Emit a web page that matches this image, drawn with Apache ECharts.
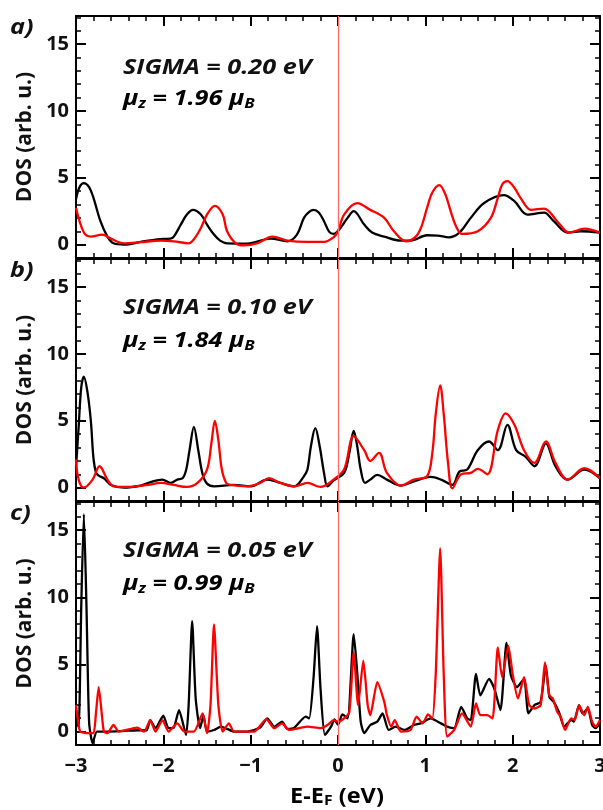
<!DOCTYPE html>
<html>
<head>
<meta charset="utf-8">
<script src="https://cdn.jsdelivr.net/npm/echarts@6/dist/echarts.min.js"></script>
<style>
  html, body { margin: 0; background: #fff; }
  #chart { width: 603px; height: 810px; }
</style>
</head>
<body>
<div id="chart"></div>
<script>
// DOS curves: [E - E_F (eV), DOS (arb. u.)]
// panel a) SIGMA = 0.20 eV
const A_BLACK = [[-3,3.4],[-2.96,4.3],[-2.91,4.6],[-2.85,4.3],[-2.8,3.5],[-2.72,1.75],[-2.64,0.6],[-2.57,0.1],[-2.45,0],
  [-2.26,0.2],[-2.07,0.4],[-1.92,0.45],[-1.88,0.6],[-1.8,1.5],[-1.73,2.25],[-1.66,2.6],[-1.57,2.25],[-1.5,1.5],[-1.42,0.75],
  [-1.35,0.3],[-1.27,0.1],[-1.04,0.08],[-0.77,0.45],[-0.58,0.25],[-0.47,0.75],[-0.39,2.0],[-0.33,2.45],[-0.28,2.6],
  [-0.22,2.4],[-0.16,1.75],[-0.1,0.95],[-0.05,0.8],[0.01,1.1],[0.11,2.0],[0.18,2.5],[0.3,1.5],[0.39,0.9],[0.53,0.6],
  [0.72,0.3],[0.83,0.3],[1.02,0.7],[1.14,0.68],[1.27,0.55],[1.39,0.9],[1.52,2.0],[1.67,3.1],[1.9,3.7],[2.02,3.25],
  [2.17,2.25],[2.36,2.4],[2.47,1.75],[2.63,0.9],[2.78,1.0],[3,0.9]];
const A_RED = [[-3,2.75],[-2.91,0.9],[-2.83,0.6],[-2.7,0.75],[-2.6,0.45],[-2.45,0.1],[-2.26,0.18],[-2.03,0.3],[-1.88,0.25],
  [-1.71,0.1],[-1.65,0.4],[-1.57,1.25],[-1.5,2.25],[-1.41,2.9],[-1.32,2.25],[-1.27,1.0],[-1.17,0.1],[-1.08,-0.05],
  [-0.92,0.12],[-0.75,0.6],[-0.58,0.3],[-0.35,0.2],[-0.16,0.2],[-0.05,0.55],[0,1.0],[0.07,2.25],[0.22,3.1],[0.37,2.6],
  [0.53,2.0],[0.64,1.0],[0.78,0.25],[0.89,0.6],[0.95,1.25],[1.02,2.75],[1.08,3.9],[1.16,4.45],[1.23,3.75],[1.29,2.5],
  [1.35,1.4],[1.42,0.8],[1.6,1.0],[1.75,2.0],[1.83,3.5],[1.88,4.5],[1.94,4.75],[2.02,4.25],[2.09,3.5],[2.21,2.6],
  [2.36,2.7],[2.51,1.75],[2.65,0.9],[2.82,1.2],[3,0.9]];

// panel b) SIGMA = 0.10 eV
const B_BLACK = [[-3,1.5],[-2.97,4.5],[-2.94,7.5],[-2.91,8.3],[-2.87,7.2],[-2.83,5.0],[-2.8,2.2],[-2.77,1.1],[-2.74,0.9],
  [-2.68,0.7],[-2.6,0.2],[-2.45,0],[-2.26,0.15],[-2.15,0.4],[-2.01,0.6],[-1.92,0.35],[-1.84,0.6],[-1.78,0.7],[-1.74,1.3],
  [-1.7,2.8],[-1.65,4.55],[-1.6,2.8],[-1.55,1.0],[-1.5,0.3],[-1.42,0.1],[-1.19,0.2],[-1.0,0.1],[-0.81,0.6],[-0.66,0.35],
  [-0.5,0.1],[-0.39,0.85],[-0.35,1.35],[-0.31,3.1],[-0.26,4.45],[-0.21,3.1],[-0.16,1.1],[-0.12,0.1],[-0.05,0.55],
  [0.07,1.1],[0.13,2.6],[0.18,4.25],[0.22,3.1],[0.26,1.35],[0.31,0.35],[0.37,0.6],[0.45,0.95],[0.56,0.6],[0.72,0.15],
  [0.87,0.47],[1.06,0.8],[1.18,0.6],[1.31,0.2],[1.39,1.2],[1.48,1.35],[1.6,2.8],[1.73,3.45],[1.83,2.8],[1.94,4.7],
  [2.04,2.8],[2.15,2.3],[2.25,1.6],[2.38,3.3],[2.49,1.6],[2.63,0.6],[2.82,1.35],[3,0.7]];
const B_RED = [[-3,2.1],[-2.97,0.6],[-2.91,0],[-2.81,0.6],[-2.73,1.6],[-2.64,0.6],[-2.57,0.1],[-2.41,0.05],[-2.18,0.2],
  [-2.03,0.35],[-1.88,0.2],[-1.73,0.05],[-1.61,0.35],[-1.5,1.35],[-1.45,3.3],[-1.41,5.0],[-1.37,3.55],[-1.33,1.35],
  [-1.28,0.35],[-1.23,0.2],[-1.04,0.1],[-0.89,0.35],[-0.79,0.7],[-0.66,0.35],[-0.5,0.1],[-0.35,0.35],[-0.2,0.05],
  [-0.05,0.6],[0.07,1.35],[0.18,3.85],[0.3,2.8],[0.37,2.0],[0.47,2.6],[0.56,1.1],[0.72,0.15],[0.87,0.6],[1.02,0.85],
  [1.08,2.6],[1.12,5.55],[1.17,7.65],[1.21,5.55],[1.26,1.85],[1.31,-0.05],[1.41,1.0],[1.52,1.1],[1.6,1.4],[1.71,1.0],
  [1.83,4.3],[1.92,5.55],[2.02,4.7],[2.13,2.8],[2.25,1.85],[2.38,3.45],[2.49,1.85],[2.63,0.6],[2.82,1.45],[3,0.7]];

// panel c) SIGMA = 0.05 eV
const C_BLACK = [[-3,0.9],[-2.97,0.3],[-2.94,9.3],[-2.91,16.2],[-2.88,9.3],[-2.85,0.7],[-2.81,-0.86],[-2.76,0],
  [-2.64,0],[-2.45,0.05],[-2.26,0.1],[-2.19,0.1],[-2.15,0.86],[-2.09,0.25],[-2.0,1.18],[-1.94,0.25],[-1.88,0.3],
  [-1.82,1.6],[-1.74,-0.25],[-1.71,2.0],[-1.67,8.23],[-1.63,2.5],[-1.58,0.25],[-1.54,1.18],[-1.5,0],[-1.42,0.12],
  [-1.34,0.37],[-1.27,0.2],[-1.19,0],[-1.04,0],[-0.89,0.3],[-0.81,0.98],[-0.73,0.37],[-0.64,0.74],[-0.58,0.2],
  [-0.5,0.29],[-0.37,1.11],[-0.33,0.98],[-0.28,4.0],[-0.24,7.86],[-0.2,3.19],[-0.15,-0.25],[-0.08,0.37],[-0.04,0.9],
  [0,0.5],[0.05,1.28],[0.11,0.98],[0.18,7.25],[0.22,4.4],[0.26,0.74],[0.3,-0.12],[0.37,0.49],[0.45,0.74],[0.51,1.35],
  [0.58,0.12],[0.66,0.37],[0.76,0.12],[0.87,0.49],[0.95,0.61],[1.06,0.98],[1.18,0.61],[1.25,0.37],[1.33,0.25],
  [1.41,1.84],[1.48,0.98],[1.52,0.86],[1.58,4.3],[1.63,2.7],[1.73,3.93],[1.79,3.19],[1.86,1.6],[1.93,6.63],[1.98,4.18],
  [2.05,3.32],[2.13,3.93],[2.18,1.35],[2.25,1.97],[2.32,2.21],[2.38,4.91],[2.42,2.58],[2.47,2.21],[2.53,1.47],
  [2.59,0.37],[2.67,0.86],[2.7,0.74],[2.76,1.97],[2.8,1.35],[2.86,1.72],[2.91,0.49],[2.95,0.25],[3,0.61]];
const C_RED = [[-3,1.97],[-2.97,0.5],[-2.95,0],[-2.87,-0.12],[-2.8,-0.12],[-2.77,1.5],[-2.74,3.3],[-2.7,1.0],[-2.68,0],
  [-2.64,-0.12],[-2.57,0.49],[-2.51,0],[-2.3,0.29],[-2.22,0],[-2.15,0.86],[-2.09,0],[-2.01,0.86],[-1.94,0],[-1.84,0.61],
  [-1.76,0],[-1.65,0],[-1.55,1.35],[-1.5,-0.12],[-1.46,1.97],[-1.42,7.99],[-1.37,1.97],[-1.32,0],[-1.25,0.61],
  [-1.19,0],[-0.96,0],[-0.82,0.93],[-0.73,0.25],[-0.64,0.61],[-0.56,0.12],[-0.35,0.37],[-0.2,0.25],[-0.12,0.49],
  [-0.05,0.86],[0,0.74],[0.07,0.98],[0.13,1.47],[0.18,5.9],[0.23,1.97],[0.29,5.28],[0.34,1.97],[0.37,1.23],[0.45,3.69],
  [0.53,2.21],[0.56,1.23],[0.61,0.37],[0.65,0.86],[0.72,0],[0.83,0.12],[0.9,1.11],[0.97,0.61],[1.03,1.28],[1.08,0.98],
  [1.12,4.42],[1.17,13.64],[1.21,4.42],[1.25,-0.37],[1.33,0.12],[1.42,1.35],[1.52,0.37],[1.58,2.09],[1.63,1.23],
  [1.71,1.23],[1.77,0.98],[1.83,6.27],[1.88,4.05],[1.95,6.39],[2.0,4.3],[2.06,2.46],[2.13,4.05],[2.19,1.97],[2.25,1.72],
  [2.32,1.97],[2.37,5.16],[2.42,2.7],[2.46,2.46],[2.51,1.47],[2.55,1.11],[2.6,0.12],[2.67,0.98],[2.71,0.86],[2.76,1.97],
  [2.82,1.23],[2.86,1.84],[2.91,0.74],[2.95,0.37],[3,0.86]];

const PANEL_LABELS = ['a)', 'b)', 'c)'];
const SIGMAS = ['0.20', '0.10', '0.05'];
const MOMENTS = ['1.96', '1.84', '0.99'];
const Y_MAJOR = [0, 5, 10, 15];
const Y_MINOR = [-1, 1, 2, 3, 4, 6, 7, 8, 9, 11, 12, 13, 14, 16, 17];

const BLACKS = [A_BLACK, B_BLACK, C_BLACK];
const REDS = [A_RED, B_RED, C_RED];

const FONT = "'Open Sans', sans-serif";
const TOPS = [16, 259, 502];
const HEIGHTS = [242, 242, 243];
const LEFT = 76, WIDTH = 524;
const STRETCH = 1.2; // annotation text in the figure is drawn wider than the font's natural width

const grid = [], xAxis = [], yAxis = [], series = [], graphic = [];
const ax = { lineStyle: { color: '#000', width: 2 } };

TOPS.forEach((top, i) => {
  grid.push({ left: LEFT, top, width: WIDTH, height: HEIGHTS[i], containLabel: false, outerBoundsMode: 'none' });
  ['bottom', 'top'].forEach(pos => xAxis.push({
    gridIndex: i, type: 'value', min: -3, max: 3, interval: 1, position: pos,
    axisLine: { show: true, onZero: false, ...ax },
    axisTick: { show: true, inside: true, length: 10, ...ax },
    minorTick: { show: true, splitNumber: 5, length: 5, lineStyle: { color: '#000', width: 1.5 } },
    splitLine: { show: false },
    axisLabel: {
      show: pos === 'bottom' && i === 2, margin: 11, color: '#111',
      fontFamily: FONT, fontWeight: 'bold', fontSize: 20,
      formatter: v => (v < 0 ? '\u2212' + Math.abs(v) : String(v)),
    },
  }));
  ['left', 'right'].forEach(pos => {
    yAxis.push({
      gridIndex: i, type: 'value', min: -1, max: 17.1, position: pos,
      axisLine: { show: true, onZero: false, ...ax },
      axisTick: { show: true, inside: true, length: 10, customValues: Y_MAJOR, ...ax },
      splitLine: { show: false },
      axisLabel: {
        show: pos === 'left', customValues: Y_MAJOR, margin: 7, color: '#111',
        fontFamily: FONT, fontWeight: 'bold', fontSize: 20,
      },
    });
    yAxis.push({
      gridIndex: i, type: 'value', min: -1, max: 17.1, position: pos,
      axisLine: { show: false, onZero: false },
      axisTick: { show: true, inside: true, length: 5, customValues: Y_MINOR, lineStyle: { color: '#000', width: 1.5 } },
      splitLine: { show: false },
      axisLabel: { show: false },
    });
  });

  series.push({
    type: 'line', xAxisIndex: 2 * i, yAxisIndex: 4 * i, data: BLACKS[i],
    showSymbol: false, smooth: i === 2 ? 0.2 : 0.35, lineStyle: { color: '#000', width: 2.3 },
    markLine: {
      silent: true, symbol: ['none', 'none'], label: { show: false },
      lineStyle: { color: '#ff6a6a', width: 1.3, type: 'solid' },
      data: [{ xAxis: 0 }],
    },
  });
  series.push({
    type: 'line', xAxisIndex: 2 * i, yAxisIndex: 4 * i, data: REDS[i],
    showSymbol: false, smooth: i === 2 ? 0.2 : 0.35, lineStyle: { color: '#f00', width: 2.3 },
  });

  const txt = { fontFamily: FONT, fontWeight: 'bold', fontStyle: 'italic', fill: '#111' };
  graphic.push({
    type: 'text', x: 10, y: top + 12, scaleX: STRETCH,
    style: { ...txt, text: PANEL_LABELS[i], fontSize: 21, textAlign: 'left', textVerticalAlign: 'middle' },
  });
  graphic.push({
    type: 'text', x: 123, y: top + (i === 0 ? 52 : 49), scaleX: STRETCH,
    style: { ...txt, text: 'SIGMA = ' + SIGMAS[i] + ' eV', fontSize: 21, textAlign: 'left', textVerticalAlign: 'middle' },
  });
  const m = { fontFamily: FONT, fontWeight: 'bold', fontStyle: 'italic', fontSize: 21, color: '#111', lineHeight: 25 };
  graphic.push({
    type: 'text', x: 123, y: top + (i === 0 ? 83 : 82), scaleX: STRETCH,
    style: {
      text: '{m|\u03bc}{s|z}{m| = ' + MOMENTS[i] + ' \u03bc}{s|B}',
      textAlign: 'left', textVerticalAlign: 'middle',
      rich: { m, s: { ...m, fontSize: 14, padding: [10, 0, 0, 0] } },
    },
  });
  graphic.push({
    type: 'text', x: 25, y: top + HEIGHTS[i] / 2, rotation: Math.PI / 2,
    style: {
      text: 'DOS (arb. u.)', fontFamily: FONT, fontWeight: 'bold', fontSize: 21, fill: '#111',
      textAlign: 'center', textVerticalAlign: 'middle',
    },
  });
});

const xm = { fontFamily: FONT, fontWeight: 'bold', fontSize: 21, color: '#111', lineHeight: 25 };
graphic.push({
  type: 'text', x: 337, y: 797, scaleX: 1.12,
  style: {
    text: '{m|E-E}{s|F}{m| (eV)}', textAlign: 'center', textVerticalAlign: 'middle',
    rich: { m: xm, s: { ...xm, fontSize: 14, padding: [9, 0, 0, 0] } },
  },
});

const chart = echarts.init(document.getElementById('chart'), null, { renderer: 'canvas' });
chart.setOption({
  animation: false,
  backgroundColor: '#fff',
  grid, xAxis, yAxis, series, graphic,
});
</script>
</body>
</html>
